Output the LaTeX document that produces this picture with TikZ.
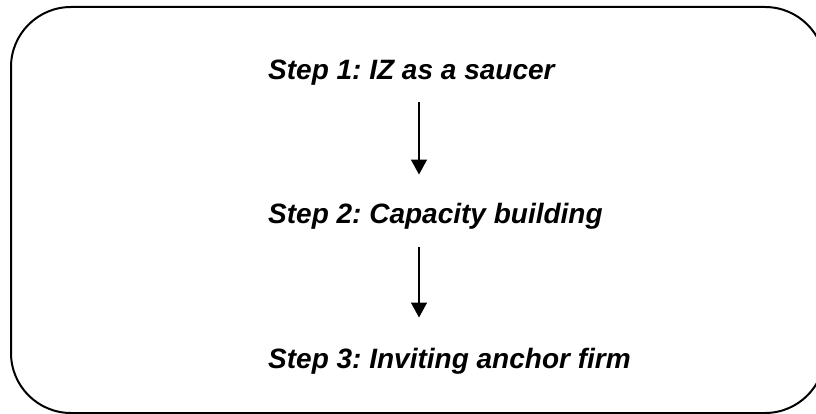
\documentclass[tikz,border=0pt]{standalone}
\usepackage{fontspec}
\setmainfont{Liberation Sans}
\usetikzlibrary{arrows.meta}
\begin{document}
\frenchspacing
\begin{tikzpicture}[x=1pt,y=-1pt,
  steptext/.style={anchor=base west,inner sep=0pt,font=\fontsize{28}{33}\selectfont\bfseries\itshape},
  flowarrow/.style={line width=1.5pt,-{Triangle[width=16pt,length=15pt]}},
  frame/.style={draw,line width=2pt,rounded corners=60pt}]
\useasboundingbox (0,0) rectangle (816,414);
\clip (0,0) rectangle (816,414);
\draw[frame] (11,7) rectangle (825,413);
\coordinate (ax) at (419,0);
\node[steptext] (s1) at (268,80) {Step 1: IZ as a saucer};
\node[steptext] (s2) at (268,223) {Step 2: Capacity building};
\node[steptext] (s3) at (268,368) {Step 3: Inviting anchor firm};
\draw[flowarrow,shorten <=16pt,shorten >=28pt] (s1.south -| ax) -- (s2.north -| ax);
\draw[flowarrow,shorten <=18pt,shorten >=30pt] (s2.south -| ax) -- (s3.north -| ax);
\end{tikzpicture}
\end{document}
